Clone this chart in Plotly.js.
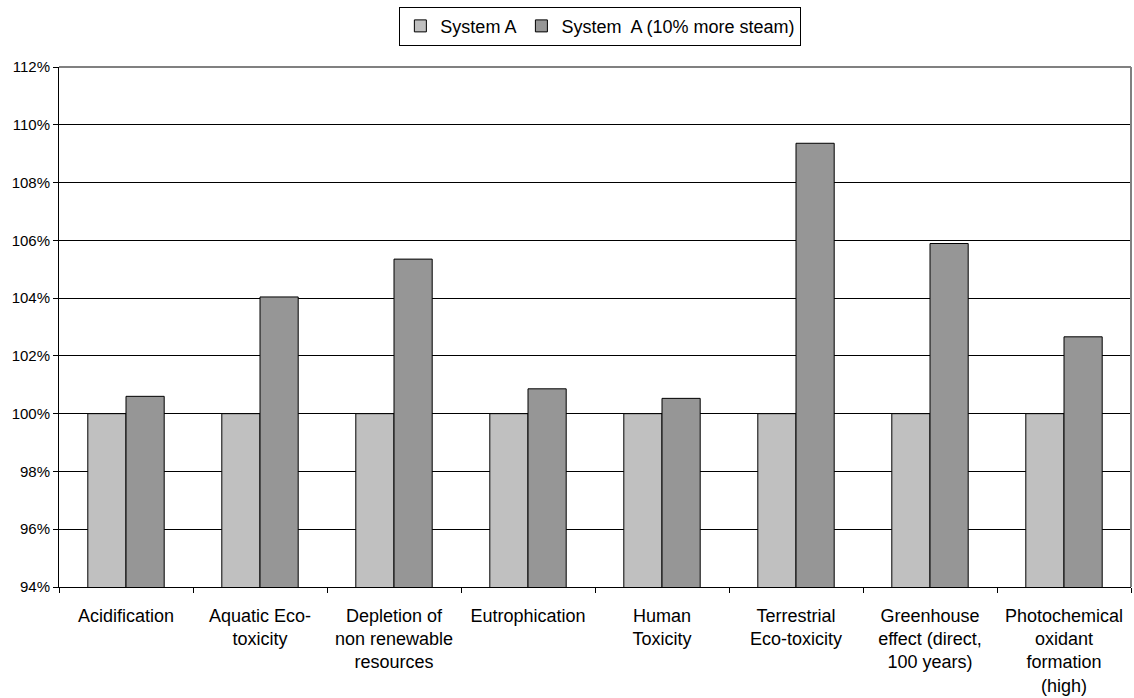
<!DOCTYPE html>
<html>
<head>
<meta charset="utf-8">
<script src="https://cdn.plot.ly/plotly-3.0.1.min.js"></script>
<style>
  html, body { margin: 0; padding: 0; background: #fff; }
  #chart { width: 1134px; height: 698px; }
</style>
</head>
<body>
<div id="chart"></div>
<script>
// Impact categories (multi-line tick labels)
const categories = [
  "Acidification",
  "Aquatic Eco-<br>toxicity",
  "Depletion of<br>non renewable<br>resources",
  "Eutrophication",
  "Human<br>Toxicity",
  "Terrestrial<br>Eco-toxicity",
  "Greenhouse<br>effect (direct,<br>100 years)",
  "Photochemical<br>oxidant<br>formation<br>(high)"
];

// Relative impact, System A = 100%
const systemA = [1.000, 1.000, 1.000, 1.000, 1.000, 1.000, 1.000, 1.000];
const systemAMoreSteam = [1.0060, 1.0404, 1.0535, 1.0086, 1.0053, 1.0936, 1.0589, 1.0266];

const seriesNames = ["System A", "System\u00a0 A (10% more steam)"];
const yTicks = [0.94, 0.96, 0.98, 1.00, 1.02, 1.04, 1.06, 1.08, 1.10, 1.12];

const font = "Liberation Sans, Arial, Helvetica, sans-serif";

const traces = [
  {
    type: "bar",
    name: seriesNames[0],
    x: categories,
    y: systemA,
    marker: { color: "#C0C0C0", line: { color: "#000", width: 1 } }
  },
  {
    type: "bar",
    name: seriesNames[1],
    x: categories,
    y: systemAMoreSteam,
    marker: { color: "#969696", line: { color: "#000", width: 1 } }
  }
];

const layout = {
  width: 1134,
  height: 698,
  margin: { l: 59, r: 3, t: 67, b: 111 },
  paper_bgcolor: "#fff",
  plot_bgcolor: "#fff",
  font: { family: font, size: 18, color: "#000" },
  barmode: "group",
  bargap: 0.43,
  bargroupgap: 0,
  showlegend: true,
  legend: {
    orientation: "h",
    x: 0.505,
    xanchor: "center",
    y: 1.116,
    yanchor: "top",
    bordercolor: "#000",
    borderwidth: 1,
    bgcolor: "#fff",
    font: { family: font, size: 18, color: "#000" },
    itemwidth: 30,
    traceorder: "normal"
  },
  xaxis: {
    type: "category",
    showline: true,
    linecolor: "#000",
    linewidth: 1,
    ticks: "outside",
    tickson: "boundaries",
    ticklen: 5,
    tickcolor: "#000",
    showgrid: false,
    ticklabelstandoff: 12,
    tickfont: { family: font, size: 18, color: "#000" },
    fixedrange: true
  },
  yaxis: {
    range: [0.94, 1.12],
    tickvals: yTicks,
    tickformat: ".0%",
    showline: true,
    linecolor: "#000",
    linewidth: 1,
    ticks: "outside",
    ticklen: 5,
    tickcolor: "#000",
    showgrid: true,
    gridcolor: "#000",
    gridwidth: 1,
    zeroline: false,
    tickfont: { family: font, size: 15, color: "#000" },
    fixedrange: true
  },
  shapes: [
    // plot-area frame on the top and right sides
    { type: "line", xref: "paper", yref: "paper", x0: 0, x1: 1, y0: 1, y1: 1,
      line: { color: "#808080", width: 2 }, layer: "above" },
    { type: "line", xref: "paper", yref: "paper", x0: 1, x1: 1, y0: 0, y1: 1,
      line: { color: "#808080", width: 2 }, layer: "above" }
  ]
};

Plotly.newPlot("chart", traces, layout, { displayModeBar: false, staticPlot: true });
</script>
</body>
</html>
